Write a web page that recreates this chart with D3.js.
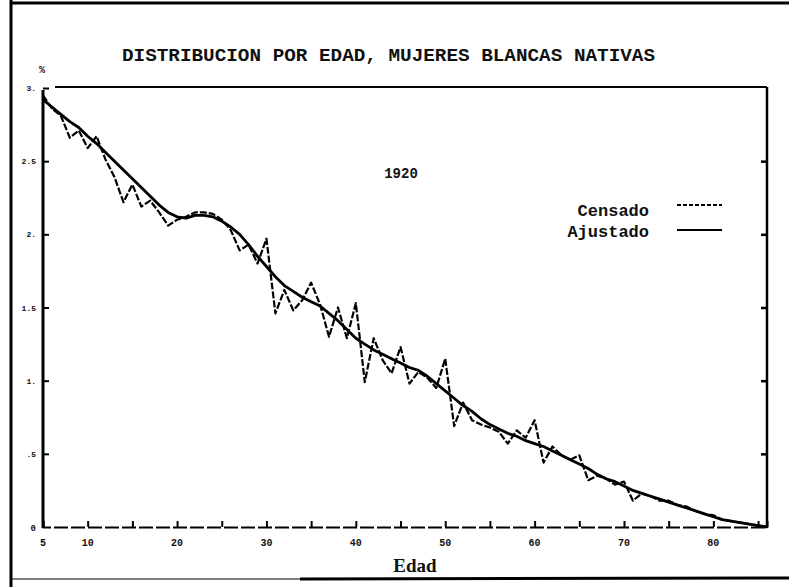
<!DOCTYPE html>
<html>
<head>
<meta charset="utf-8">
<script src="https://cdn.jsdelivr.net/npm/d3@7"></script>
<style>
  body { margin: 0; background: #fff; }
  text { fill: #111; }
</style>
</head>
<body>
<div id="canvas"></div>
<script>
// edades 5..86
var edades = d3.range(5, 87);

var censado = [
  2.95, 2.86, 2.81, 2.66, 2.71, 2.59, 2.67, 2.51, 2.39, 2.22,
  2.34, 2.19, 2.23, 2.15, 2.06, 2.10, 2.12, 2.15, 2.15, 2.14,
  2.10, 2.03, 1.89, 1.93, 1.80, 1.97, 1.46, 1.62, 1.48, 1.55,
  1.67, 1.52, 1.30, 1.50, 1.29, 1.53, 0.99, 1.29, 1.14, 1.05,
  1.23, 0.98, 1.06, 1.02, 0.95, 1.15, 0.69, 0.85, 0.73, 0.70,
  0.68, 0.65, 0.57, 0.66, 0.61, 0.73, 0.44, 0.55, 0.49, 0.46,
  0.49, 0.32, 0.35, 0.33, 0.29, 0.31, 0.18, 0.23, 0.21, 0.18,
  0.18, 0.15, 0.14, 0.11, 0.09, 0.08, 0.05, 0.04, 0.03, 0.02,
  0.01, 0.00
];

var ajustado = [
  2.92, 2.87, 2.82, 2.77, 2.73, 2.67, 2.62, 2.56, 2.50, 2.44,
  2.38, 2.32, 2.26, 2.20, 2.15, 2.12, 2.11, 2.13, 2.13, 2.12,
  2.09, 2.05, 2.00, 1.93, 1.85, 1.78, 1.71, 1.65, 1.61, 1.57,
  1.54, 1.51, 1.46, 1.41, 1.35, 1.29, 1.25, 1.21, 1.18, 1.15,
  1.12, 1.09, 1.07, 1.03, 0.98, 0.93, 0.88, 0.83, 0.79, 0.74,
  0.70, 0.67, 0.64, 0.62, 0.59, 0.57, 0.55, 0.52, 0.49, 0.46,
  0.43, 0.40, 0.36, 0.33, 0.31, 0.28, 0.25, 0.23, 0.21, 0.19,
  0.17, 0.15, 0.13, 0.11, 0.09, 0.07, 0.05, 0.04, 0.03, 0.02,
  0.01, 0.00
];

var xTicksMenores = d3.range(5, 86, 5);
var xTickLabels = [5, 10, 20, 30, 40, 50, 60, 70, 80];
var yTicks = [0.5, 1.0, 1.5, 2.0, 2.5, 3.0];
var yTickLabels = [".5", "1.", "1.5", "2.", "2.5", "3."];

var W = 789, H = 587;
var svg = d3.select("#canvas").append("svg")
    .attr("width", W).attr("height", H);

var x = d3.scaleLinear().domain([5, 86]).range([43, 767]);
var y = d3.scaleLinear().domain([0, 3]).range([527, 88]);

var mono = "'Liberation Mono', 'Courier New', monospace";

// marco exterior
svg.append("line").attr("x1", 11).attr("y1", 0).attr("x2", 11).attr("y2", H)
   .attr("stroke", "#000").attr("stroke-width", 3);
svg.append("line").attr("x1", 10).attr("y1", 3).attr("x2", W).attr("y2", 3)
   .attr("stroke", "#000").attr("stroke-width", 3);
svg.append("line").attr("x1", 10).attr("y1", 579).attr("x2", 300).attr("y2", 579)
   .attr("stroke", "#000").attr("stroke-width", 1);
svg.append("line").attr("x1", 300).attr("y1", 579).attr("x2", W).attr("y2", 578)
   .attr("stroke", "#000").attr("stroke-width", 3);

// titulo
svg.append("text")
   .attr("x", 122).attr("y", 61)
   .attr("textLength", 533)
   .attr("lengthAdjust", "spacingAndGlyphs")
   .style("font-family", mono).style("font-size", "18px")
   .style("font-weight", "bold")
   .text("DISTRIBUCION POR EDAD, MUJERES BLANCAS NATIVAS");

// caja del grafico
svg.append("line").attr("x1", 55).attr("y1", 87).attr("x2", 767).attr("y2", 87)
   .attr("stroke", "#000").attr("stroke-width", 2);
svg.append("line").attr("x1", 767).attr("y1", 87).attr("x2", 767).attr("y2", 528)
   .attr("stroke", "#000").attr("stroke-width", 2.5);
svg.append("line").attr("x1", 43).attr("y1", 90).attr("x2", 43).attr("y2", 528)
   .attr("stroke", "#000").attr("stroke-width", 3);

// eje x
var xAxis = d3.axisBottom(x).tickValues(xTicksMenores).tickSize(-6).tickFormat("");
var gx = svg.append("g").attr("transform", "translate(0,527)").call(xAxis);
gx.select(".domain").attr("stroke-width", 2).attr("stroke-dasharray", "14,3");
gx.selectAll(".tick line").attr("stroke-width", 2);

svg.selectAll(".xlab").data(xTickLabels).enter().append("text")
   .attr("class", "xlab")
   .attr("x", function(d){ return x(d); })
   .attr("y", 546)
   .attr("text-anchor", "middle")
   .style("font-family", mono).style("font-size", "10px").style("font-weight", "bold")
   .text(function(d){ return d; });

svg.append("text").attr("x", 415).attr("y", 572)
   .attr("text-anchor", "middle")
   .style("font-family", "'Liberation Serif', serif").style("font-size", "19px")
   .style("font-weight", "bold")
   .text("Edad");

// eje y
var yAxisL = d3.axisLeft(y).tickValues(yTicks).tickSize(-6).tickFormat("");
var gyl = svg.append("g").attr("transform", "translate(43,0)").call(yAxisL);
gyl.select(".domain").remove();
gyl.selectAll(".tick line").attr("stroke-width", 2);

var yAxisR = d3.axisRight(y).tickValues(yTicks.slice(0, 5)).tickSize(-6).tickFormat("");
var gyr = svg.append("g").attr("transform", "translate(767,0)").call(yAxisR);
gyr.select(".domain").remove();
gyr.selectAll(".tick line").attr("stroke-width", 2.5);

svg.selectAll(".ylab").data(yTicks).enter().append("text")
   .attr("class", "ylab")
   .attr("x", 36)
   .attr("y", function(d){ return y(d) + 3; })
   .attr("text-anchor", "end")
   .style("font-family", mono).style("font-size", "8px").style("font-weight", "bold")
   .text(function(d, i){ return yTickLabels[i]; });

svg.append("text").attr("x", 36).attr("y", 531).attr("text-anchor", "end")
   .style("font-family", mono).style("font-size", "9px").style("font-weight", "bold")
   .text("0");
svg.append("text").attr("x", 42).attr("y", 73).attr("text-anchor", "middle")
   .style("font-family", mono).style("font-size", "10px").style("font-weight", "bold")
   .text("%");

// lineas
var line = d3.line()
    .x(function(d, i){ return x(edades[i]); })
    .y(function(d){ return y(d); });

svg.append("path").datum(ajustado)
   .attr("d", line)
   .attr("fill", "none").attr("stroke", "#000")
   .attr("stroke-width", 2.8).attr("stroke-linejoin", "round");

svg.append("path").datum(censado)
   .attr("d", line)
   .attr("fill", "none").attr("stroke", "#000")
   .attr("stroke-width", 2.2).attr("stroke-linejoin", "round")
   .attr("stroke-dasharray", "7,2");

// anio y leyenda
svg.append("text").attr("x", 401).attr("y", 178).attr("text-anchor", "middle")
   .style("font-family", mono).style("font-size", "14px").style("font-weight", "bold")
   .text("1920");

svg.append("text").attr("x", 649).attr("y", 216).attr("text-anchor", "end")
   .style("font-family", mono).style("font-size", "17px").style("font-weight", "bold")
   .text("Censado");
svg.append("text").attr("x", 649).attr("y", 237).attr("text-anchor", "end")
   .style("font-family", mono).style("font-size", "17px").style("font-weight", "bold")
   .text("Ajustado");

svg.append("line").attr("x1", 677).attr("y1", 205).attr("x2", 722).attr("y2", 205)
   .attr("stroke", "#000").attr("stroke-width", 1.8).attr("stroke-dasharray", "4,2");
svg.append("line").attr("x1", 677).attr("y1", 230).attr("x2", 722).attr("y2", 230)
   .attr("stroke", "#000").attr("stroke-width", 2.2);
</script>
</body>
</html>
